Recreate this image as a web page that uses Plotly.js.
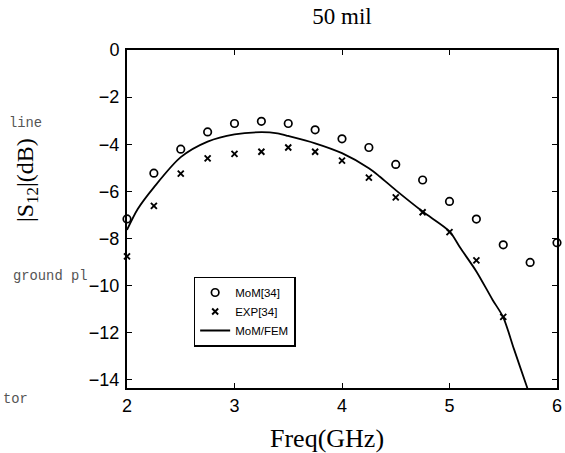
<!DOCTYPE html>
<html>
<head>
<meta charset="utf-8">
<script src="https://cdn.plot.ly/plotly-3.0.1.min.js"></script>
<style>html,body{margin:0;padding:0;background:#fff;}#chart{width:565px;height:453px;}</style>
</head>
<body>
<div id="chart"></div>
<script>
// Marker frequencies (GHz)
const freqMoM = [2, 2.25, 2.5, 2.75, 3, 3.25, 3.5, 3.75, 4, 4.25, 4.5, 4.75, 5, 5.25, 5.5, 5.75, 6];
const momValues = [-7.17, -5.23, -4.21, -3.48, -3.12, -3.03, -3.12, -3.39, -3.77, -4.14, -4.86, -5.52, -6.43, -7.18, -8.27, -9.02, -8.18];
const freqExp = [2, 2.25, 2.5, 2.75, 3, 3.25, 3.5, 3.75, 4, 4.25, 4.5, 4.75, 5, 5.25, 5.5];
const expValues = [-8.76, -6.62, -5.25, -4.6, -4.41, -4.32, -4.14, -4.32, -4.7, -5.42, -6.26, -6.89, -7.73, -8.93, -11.33];
// MoM/FEM curve
const freqFem = [2, 2.1, 2.25, 2.5, 2.75, 3, 3.25, 3.4, 3.5, 3.75, 4, 4.25, 4.35, 4.5, 4.75, 5, 5.1, 5.25, 5.4, 5.5, 5.6, 5.72, 5.75];
const femValues = [-7.64, -6.75, -5.83, -4.55, -3.89, -3.58, -3.49, -3.54, -3.65, -3.96, -4.38, -5.02, -5.37, -5.95, -6.86, -7.7, -8.4, -9.4, -10.6, -11.35, -12.7, -14.3, -14.7];

const xTicks = [2, 3, 4, 5, 6];
const yTicks = [0, -2, -4, -6, -8, -10, -12, -14];
const yTickText = ['0', '\u22122', '\u22124', '\u22126', '\u22128', '\u221210', '\u221212', '\u221214'];

const serif = 'Liberation Serif, Times New Roman, serif';
const sans = 'Liberation Sans, Arial, sans-serif';
const mono = 'Liberation Mono, Courier New, monospace';

const traces = [
  {x: freqMoM, y: momValues, name: 'MoM[34]', mode: 'markers', type: 'scatter', cliponaxis: false,
   marker: {symbol: 'circle-open', size: 7.5, color: '#000', line: {width: 1.7, color: '#000'}}},
  {x: freqExp, y: expValues, name: 'EXP[34]', mode: 'markers', type: 'scatter', cliponaxis: false,
   marker: {symbol: 'x-thin-open', size: 6, color: '#000', line: {width: 1.9, color: '#000'}}},
  {x: freqFem, y: femValues, name: 'MoM/FEM', mode: 'lines', type: 'scatter',
   line: {color: '#000', width: 1.8, shape: 'spline', smoothing: 0.8}}
];

const axisCommon = {
  showgrid: false, zeroline: false, showline: true, linecolor: '#000', linewidth: 2,
  mirror: 'ticks', ticks: 'inside', ticklen: 5, tickwidth: 1, tickcolor: '#000',
  tickfont: {family: sans, size: 18, color: '#000'}
};

const layout = {
  width: 565, height: 453,
  paper_bgcolor: '#fff', plot_bgcolor: '#fff',
  margin: {l: 127, r: 8, t: 50, b: 65, pad: 0},
  title: {text: '50 mil', font: {family: serif, size: 23, color: '#000'},
          xref: 'paper', x: 0.5, xanchor: 'center', yref: 'container', y: 1 - 16/453, yanchor: 'middle'},
  xaxis: Object.assign({}, axisCommon, {range: [2, 6], tickvals: xTicks, ticktext: xTicks.map(String)}),
  yaxis: Object.assign({}, axisCommon, {range: [-14.35, 0], tickvals: yTicks, ticktext: yTickText, ticklabelstandoff: 2}),
  showlegend: true,
  legend: {x: 0.155, y: (388 - 311.5) / 338, xanchor: 'left', yanchor: 'middle', bgcolor: '#fff',
           bordercolor: '#000', borderwidth: 1.5, font: {family: sans, size: 11.5, color: '#000'},
           itemwidth: 30, tracegroupgap: 0},
  annotations: [
    {text: 'Freq(GHz)', xref: 'paper', yref: 'paper', x: 0.464, y: -0.148, xanchor: 'center', yanchor: 'middle',
     showarrow: false, font: {family: serif, size: 26, color: '#000'}},
    {text: '|S<sub>12</sub>|(dB)', xref: 'paper', yref: 'paper', x: -0.2326, y: (388 - 180) / 338, xanchor: 'center', yanchor: 'middle',
     textangle: -90, showarrow: false, font: {family: serif, size: 24, color: '#000'}},
    {text: 'line', xref: 'paper', yref: 'paper', x: (7 - 127) / 430, y: (388 - 123) / 338, xanchor: 'left', yanchor: 'middle',
     showarrow: false, font: {family: mono, size: 13.8, color: '#555'}},
    {text: 'ground pl', xref: 'paper', yref: 'paper', x: (11 - 127) / 430, y: (388 - 276) / 338, xanchor: 'left', yanchor: 'middle',
     showarrow: false, font: {family: mono, size: 13.8, color: '#555'}},
    {text: 'tor', xref: 'paper', yref: 'paper', x: (1 - 127) / 430, y: (388 - 399) / 338, xanchor: 'left', yanchor: 'middle',
     showarrow: false, font: {family: mono, size: 13.8, color: '#555'}}
  ]
};

Plotly.newPlot('chart', traces, layout, {displayModeBar: false, staticPlot: true});
</script>
</body>
</html>
